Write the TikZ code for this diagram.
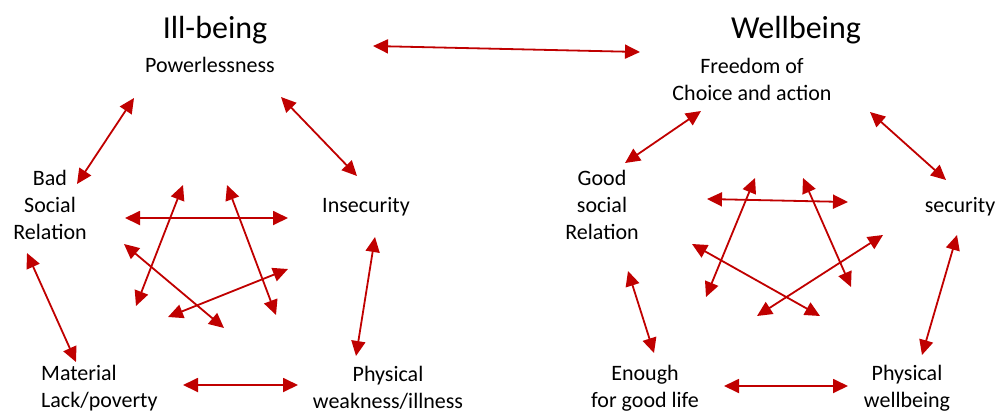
\documentclass[tikz,border=0pt]{standalone}
\usepackage{fontspec}
\setmainfont{Carlito}
\usetikzlibrary{arrows.meta}
\definecolor{arrowred}{RGB}{192,0,0}

\begin{document}
\begin{tikzpicture}[x=1pt,y=-1pt,
  link/.style={{Triangle[length=15pt,width=14pt]}-{Triangle[length=15pt,width=14pt]},arrowred,line width=1.8pt},
  txt/.style={font=\fontsize{22}{27}\selectfont,align=center,inner sep=0pt},
  head/.style={font=\fontsize{32}{36}\selectfont,inner sep=0pt}]
\useasboundingbox (0,0) rectangle (998,413);

% left circle
\node[head] (ill) at (215,30) {Ill-being};
\node[txt] (pow) at (210,65) {Powerlessness};
\node[txt] (bad) at (50,205) {Bad\\Social\\Relation};
\node[txt] (insec) at (366,207) {Insecurity};
\node[txt,align=left,anchor=west] (mat) at (41,388) {Material\\Lack/poverty};
\node[txt] (weak) at (388,388) {Physical\\weakness/illness};

% right circle
\node[head] (well) at (796,30) {Wellbeing};
\node[txt] (free) at (752,79) {Freedom of\\Choice and action};
\node[txt] (good) at (602,205) {Good\\social\\Relation};
\node[txt] (sec) at (960,207) {security};
\node[txt] (enough) at (645,388) {Enough\\for good life};
\node[txt] (fit) at (907,388) {Physical\\wellbeing};

\coordinate (ill-e) at (373,46);
\coordinate (well-w) at (640,52);
\draw[link] (ill-e) to (well-w);

% outer ring, left
\coordinate (pow-sw) at (134,98);
\coordinate (bad-ne) at (77,184);
\coordinate (pow-se) at (281,97);
\coordinate (insec-nw) at (357,176);
\coordinate (bad-s) at (27,253);
\coordinate (mat-n) at (76,362);
\coordinate (insec-s) at (375,237);
\coordinate (weak-n) at (356,356);
\coordinate (mat-e) at (183,385);
\coordinate (weak-w) at (298,385);
\draw[link] (pow-sw) to (bad-ne);
\draw[link] (pow-se) to (insec-nw);
\draw[link] (bad-s) to (mat-n);
\draw[link] (insec-s) to (weak-n);
\draw[link] (mat-e) to (weak-w);

% star, left
\coordinate (l1) at (125,218);
\coordinate (l2) at (288,218);
\coordinate (l3) at (183,185);
\coordinate (l4) at (136,306);
\coordinate (l5) at (227,185);
\coordinate (l6) at (276,315);
\coordinate (l7) at (124,244);
\coordinate (l8) at (224,328);
\coordinate (l9) at (288,269);
\coordinate (l10) at (168,317);
\draw[link] (l1) to (l2);
\draw[link] (l3) to (l4);
\draw[link] (l5) to (l6);
\draw[link] (l7) to (l8);
\draw[link] (l9) to (l10);

% outer ring, right
\coordinate (free-sw) at (701,111);
\coordinate (good-ne) at (625,163);
\coordinate (free-se) at (870,112);
\coordinate (sec-n) at (946,180);
\coordinate (good-s) at (628,271);
\coordinate (enough-n) at (654,353);
\coordinate (sec-s) at (957,235);
\coordinate (fit-n) at (922,355);
\coordinate (enough-e) at (724,386);
\coordinate (fit-w) at (848,386);
\draw[link] (free-sw) to (good-ne);
\draw[link] (free-se) to (sec-n);
\draw[link] (good-s) to (enough-n);
\draw[link] (sec-s) to (fit-n);
\draw[link] (enough-e) to (fit-w);

% star, right
\coordinate (r1) at (707,199);
\coordinate (r2) at (848,202);
\coordinate (r3) at (755,178);
\coordinate (r4) at (706,297);
\coordinate (r5) at (803,178);
\coordinate (r6) at (851,287);
\coordinate (r7) at (692,244);
\coordinate (r8) at (820,316);
\coordinate (r9) at (883,235);
\coordinate (r10) at (757,316);
\draw[link] (r1) to (r2);
\draw[link] (r3) to (r4);
\draw[link] (r5) to (r6);
\draw[link] (r7) to (r8);
\draw[link] (r9) to (r10);
\end{tikzpicture}
\end{document}
